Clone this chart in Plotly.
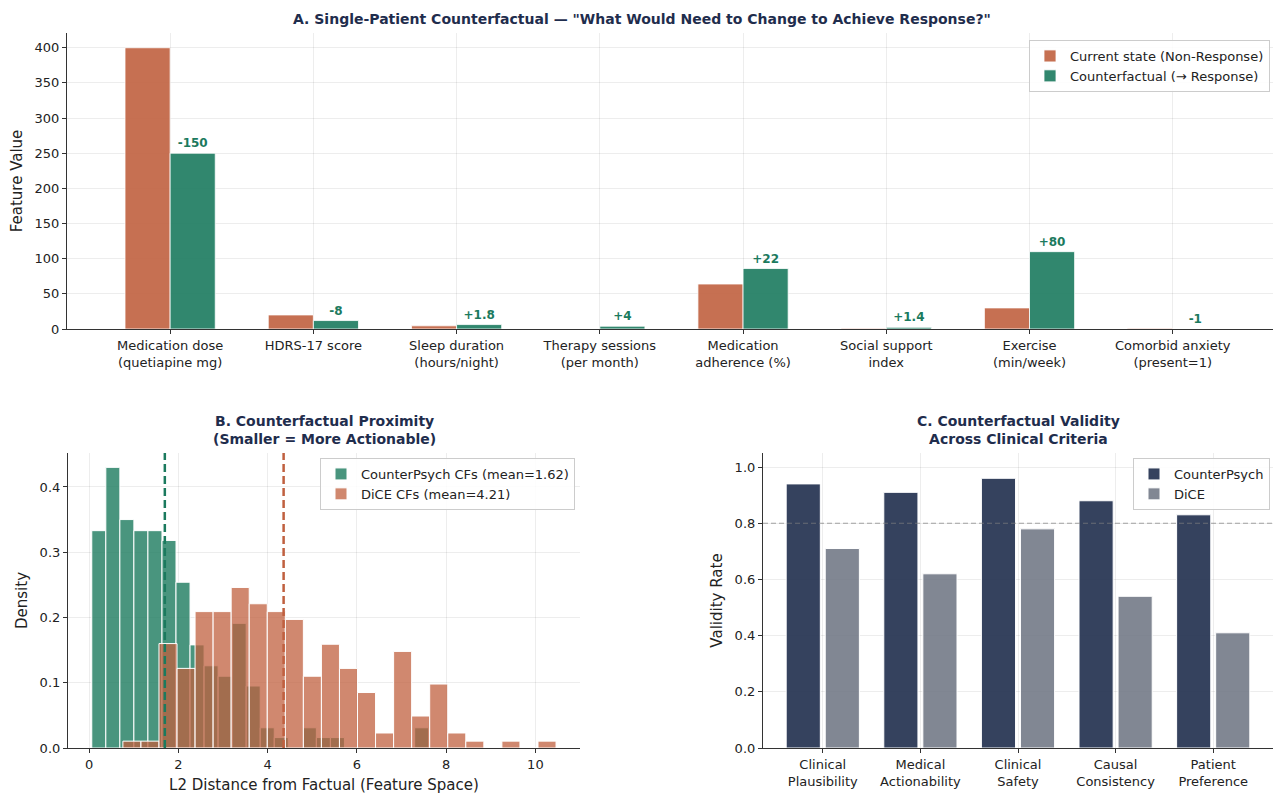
import plotly.graph_objects as go

W, H = 1274, 795

# ---- Panel A: single-patient counterfactual ----
features = [
    "Medication dose<br>(quetiapine mg)", "HDRS-17 score", "Sleep duration<br>(hours/night)",
    "Therapy sessions<br>(per month)", "Medication<br>adherence (%)", "Social support<br>index",
    "Exercise<br>(min/week)", "Comorbid anxiety<br>(present=1)",
]
current_state = [400, 20, 4.5, 0, 64, 1.0, 30, 1]
change_needed = [-150, -8, 1.8, 4, 22, 1.4, 80, -1]
counterfactual = [c + d for c, d in zip(current_state, change_needed)]
change_labels = [f"{d:+g}" for d in change_needed]

# ---- Panel B: L2 distance histograms (density) ----
cp_bin_start, cp_bin_width = 0.058, 0.3146
cp_density = [0.333, 0.430, 0.350, 0.333, 0.333, 0.318, 0.254, 0.158, 0.126, 0.110,
              0.191, 0.095, 0.031, 0.016, 0.0, 0.031, 0.016, 0.016, 0.0, 0.0,
              0.0, 0.0, 0.0, 0.031]
dice_bin_start, dice_bin_width = 0.755, 0.4045
dice_density = [0.0105, 0.0105, 0.160, 0.122, 0.209, 0.209, 0.246, 0.221, 0.209, 0.197,
                0.110, 0.159, 0.122, 0.085, 0.023, 0.148, 0.049, 0.098, 0.023, 0.0105,
                0.0, 0.0105, 0.0, 0.0105]
cp_label = "CounterPsych CFs (mean=1.62)"
dice_label = "DiCE CFs (mean=4.21)"

# ---- Panel C: validity across clinical criteria ----
criteria = ["Clinical<br>Plausibility", "Medical<br>Actionability", "Clinical<br>Safety",
            "Causal<br>Consistency", "Patient<br>Preference"]
validity_counterpsych = [0.94, 0.91, 0.96, 0.88, 0.83]
validity_dice = [0.71, 0.62, 0.78, 0.54, 0.41]
validity_threshold = 0.8

GREEN = "#1b7a5e"
ORANGE = "#c0603f"
NAVY = "#1f2d4d"
FONT = "DejaVu Sans"


def px_x(p):
    return p / W


def px_y(p):
    return 1 - p / H


def centers(start, width, n):
    return [start + width * (k + 0.5) for k in range(n)]


def hist_mean(start, width, dens):
    c = centers(start, width, len(dens))
    return sum(ci * di for ci, di in zip(c, dens)) / sum(dens)


fig = go.Figure()

# Panel A bars
fig.add_trace(go.Bar(
    x=features, y=current_state, name="Current state (Non-Response)",
    width=0.315, offset=-0.315,
    marker=dict(color="rgba(192,96,63,0.9)", line=dict(color="rgba(255,255,255,0.8)", width=1)),
    xaxis="x", yaxis="y", legend="legend",
))
fig.add_trace(go.Bar(
    x=features, y=counterfactual, name="Counterfactual (→ Response)",
    width=0.315, offset=0,
    marker=dict(color="rgba(27,122,94,0.9)", line=dict(color="rgba(255,255,255,0.8)", width=1)),
    text=change_labels, texttemplate="<b>%{text}</b>", textposition="outside",
    textfont=dict(family=FONT, size=12, color=GREEN), cliponaxis=False,
    xaxis="x", yaxis="y", legend="legend",
))

# Panel B histograms
fig.add_trace(go.Bar(
    x=centers(cp_bin_start, cp_bin_width, len(cp_density)), y=cp_density,
    width=cp_bin_width, name=cp_label,
    marker=dict(color="rgba(27,122,94,0.8)", line=dict(color="white", width=1)),
    xaxis="x2", yaxis="y2", legend="legend2",
))
fig.add_trace(go.Bar(
    x=centers(dice_bin_start, dice_bin_width, len(dice_density)), y=dice_density,
    width=dice_bin_width, name=dice_label,
    marker=dict(color="rgba(192,96,63,0.75)", line=dict(color="white", width=1)),
    xaxis="x2", yaxis="y2", legend="legend2",
))

# Panel C bars
fig.add_trace(go.Bar(
    x=criteria, y=validity_counterpsych, name="CounterPsych",
    width=0.35, offset=-0.375,
    marker=dict(color="rgba(31,45,77,0.9)", line=dict(color="white", width=1)),
    xaxis="x3", yaxis="y3", legend="legend3",
))
fig.add_trace(go.Bar(
    x=criteria, y=validity_dice, name="DiCE",
    width=0.35, offset=0.025,
    marker=dict(color="rgba(107,114,128,0.85)", line=dict(color="white", width=1)),
    xaxis="x3", yaxis="y3", legend="legend3",
))

shapes = [
    dict(type="line", xref="x2", yref="y2 domain",
         x0=hist_mean(cp_bin_start, cp_bin_width, cp_density),
         x1=hist_mean(cp_bin_start, cp_bin_width, cp_density),
         y0=0, y1=1, line=dict(color=GREEN, width=2.5, dash="8px,4px")),
    dict(type="line", xref="x2", yref="y2 domain",
         x0=hist_mean(dice_bin_start, dice_bin_width, dice_density),
         x1=hist_mean(dice_bin_start, dice_bin_width, dice_density),
         y0=0, y1=1, line=dict(color=ORANGE, width=2.5, dash="8px,4px")),
    dict(type="line", xref="x3 domain", yref="y3", x0=0, x1=1,
         y0=validity_threshold, y1=validity_threshold,
         line=dict(color="rgba(128,128,128,0.7)", width=1.2, dash="5px,3px")),
]

axis_common = dict(
    showline=True, linecolor="#333333", linewidth=1.2, automargin=False,
    ticks="outside", ticklen=4, tickcolor="#333333", tickwidth=1,
    showgrid=True, gridcolor="rgba(0,0,0,0.07)", gridwidth=1,
    zeroline=False, tickfont=dict(family=FONT, size=13, color="#222222"),
)
title_font = dict(family=FONT, size=15, color="#222222")

layout = dict(
    width=W, height=H, margin=dict(l=0, r=0, t=0, b=0, autoexpand=False),
    plot_bgcolor="white", paper_bgcolor="white",
    barmode="overlay", font=dict(family=FONT, size=13, color="#222222"),
    shapes=shapes,
    xaxis=dict(axis_common, domain=[px_x(67), px_x(1273)], anchor="y",
               type="category", range=[-0.72, 7.70]),
    yaxis=dict(axis_common, domain=[px_y(329), px_y(33)], anchor="x",
               range=[0, 421], dtick=50,
               title=dict(text="Feature Value", font=title_font, standoff=8)),
    xaxis2=dict(axis_common, domain=[px_x(68), px_x(580)], anchor="y2",
                range=[-0.475, 11.0], dtick=2,
                title=dict(text="L2 Distance from Factual (Feature Space)", font=title_font, standoff=8)),
    yaxis2=dict(axis_common, domain=[px_y(748), px_y(453)], anchor="x2",
                range=[0, 0.452], dtick=0.1, tickformat=".1f",
                title=dict(text="Density", font=title_font, standoff=8)),
    xaxis3=dict(axis_common, domain=[px_x(763), px_x(1273)], anchor="y3",
                type="category", range=[-0.6125, 4.6125]),
    yaxis3=dict(axis_common, domain=[px_y(748), px_y(453)], anchor="x3",
                range=[0, 1.05], dtick=0.2, tickformat=".1f",
                title=dict(text="Validity Rate", font=title_font, standoff=8)),
    legend=dict(x=px_x(1270), y=px_y(40), xanchor="right", yanchor="top",
                bgcolor="rgba(255,255,255,0.85)", bordercolor="#cccccc", borderwidth=1,
                font=dict(family=FONT, size=13, color="#222222")),
    legend2=dict(x=px_x(575), y=px_y(458), xanchor="right", yanchor="top",
                 bgcolor="rgba(255,255,255,0.85)", bordercolor="#cccccc", borderwidth=1,
                 font=dict(family=FONT, size=13, color="#222222")),
    legend3=dict(x=px_x(1270), y=px_y(458), xanchor="right", yanchor="top",
                 bgcolor="rgba(255,255,255,0.85)", bordercolor="#cccccc", borderwidth=1,
                 font=dict(family=FONT, size=13, color="#222222")),
    annotations=[
        dict(text='<b>A. Single-Patient Counterfactual — "What Would Need to Change to Achieve Response?"</b>',
             x=px_x(642), y=px_y(19), xref="paper", yref="paper", showarrow=False,
             font=dict(family=FONT, size=14, color=NAVY), xanchor="center", yanchor="middle"),
        dict(text="<b>B. Counterfactual Proximity<br>(Smaller = More Actionable)</b>",
             x=px_x(324), y=px_y(430), xref="paper", yref="paper", showarrow=False,
             font=dict(family=FONT, size=14, color=NAVY), xanchor="center", yanchor="middle"),
        dict(text="<b>C. Counterfactual Validity<br>Across Clinical Criteria</b>",
             x=px_x(1018), y=px_y(430), xref="paper", yref="paper", showarrow=False,
             font=dict(family=FONT, size=14, color=NAVY), xanchor="center", yanchor="middle"),
    ],
)
fig.update_layout(layout)
fig.write_html("out.html")
